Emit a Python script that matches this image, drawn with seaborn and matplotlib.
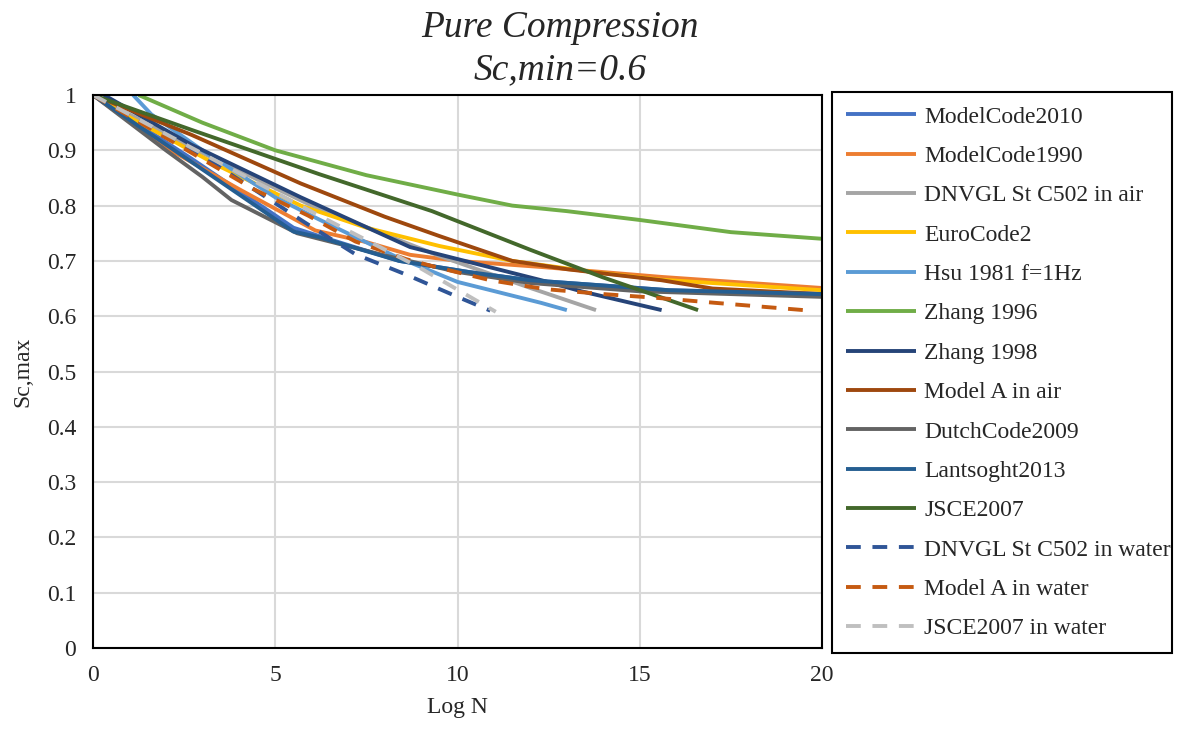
import matplotlib
matplotlib.use("Agg")
import matplotlib.pyplot as plt
import seaborn as sns
import pandas as pd

# --- S-N curves: log N versus Sc,max for Sc,min = 0.6 ---
series_names = [
    "ModelCode2010", "ModelCode1990", "DNVGL St C502 in air", "EuroCode2",
    "Hsu 1981 f=1Hz", "Zhang 1996", "Zhang 1998", "Model A in air",
    "DutchCode2009", "Lantsoght2013", "JSCE2007", "DNVGL St C502 in water",
    "Model A in water", "JSCE2007 in water",
]

mc2010_logn = [0, 2.7, 5.5, 6.2, 8.4, 10.3, 12, 15.8, 20]
mc2010_sc = [1.0, 0.885, 0.76, 0.745, 0.70, 0.68, 0.665, 0.647, 0.64]

mc1990_logn = [0, 2, 4, 6.1, 7.5, 8.7, 10, 12.3, 15.6, 20]
mc1990_sc = [1.0, 0.905, 0.83, 0.755, 0.734, 0.711, 0.70, 0.689, 0.671, 0.651]

dnv_air_logn = [0, 3, 6, 9.5, 12, 13.8]
dnv_air_sc = [1.0, 0.895, 0.80, 0.709, 0.651, 0.611]

ec2_logn = [0, 1, 3.5, 5.7, 7.5, 9.5, 11.5, 13.7, 15.6, 20]
ec2_sc = [1.0, 0.96, 0.87, 0.80, 0.76, 0.727, 0.70, 0.68, 0.666, 0.647]

hsu_logn = [1.1, 1.6, 3, 5, 6.2, 8.3, 10, 12.3, 13]
hsu_sc = [1.0, 0.965, 0.90, 0.815, 0.775, 0.708, 0.662, 0.624, 0.611]

zhang96_logn = [1.25, 3, 5, 7.5, 10, 11.5, 13, 15, 17.5, 20]
zhang96_sc = [1.0, 0.95, 0.90, 0.855, 0.82, 0.80, 0.79, 0.774, 0.752, 0.74]

zhang98_logn = [0.3, 2.7, 5.7, 8.7, 10.5, 12.3, 13.4, 15.6]
zhang98_sc = [1.0, 0.91, 0.815, 0.725, 0.695, 0.665, 0.645, 0.611]

modela_air_logn = [0, 2.7, 5.7, 8, 9.5, 11.5, 13, 15.6, 17, 20]
modela_air_sc = [1.0, 0.928, 0.84, 0.78, 0.745, 0.70, 0.685, 0.665, 0.65, 0.64]

dutch_logn = [0, 1, 2, 3, 3.8, 5.6, 8, 10, 12, 15, 20]
dutch_sc = [1.0, 0.95, 0.90, 0.852, 0.81, 0.75, 0.71, 0.68, 0.66, 0.645, 0.635]

lantsoght_logn = [0, 2.7, 5.5, 6.2, 8.4, 10.3, 12, 15.8, 20]
lantsoght_sc = [1.0, 0.879, 0.753, 0.743, 0.70, 0.68, 0.665, 0.647, 0.64]

jsce_logn = [0, 2.7, 6.2, 9.3, 12, 14, 16.6]
jsce_sc = [1.0, 0.937, 0.857, 0.79, 0.72, 0.67, 0.611]

dnv_water_logn = [0, 3, 5.8, 7.2, 8.6, 10, 10.9]
dnv_water_sc = [1.0, 0.89, 0.77, 0.712, 0.675, 0.635, 0.61]

modela_water_logn = [0, 3.1, 4.4, 5.9, 7.2, 8.6, 9.4, 10.9, 12.4, 14, 15.5, 17.1, 19.5]
modela_water_sc = [1.0, 0.88, 0.83, 0.782, 0.735, 0.703, 0.689, 0.665, 0.649, 0.64,
                   0.633, 0.624, 0.611]

jsce_water_logn = [0, 3.4, 6.2, 8.9, 11.05]
jsce_water_sc = [1.0, 0.88, 0.782, 0.69, 0.608]

x_ticks = [0, 5, 10, 15, 20]
y_ticks = [0, 0.1, 0.2, 0.3, 0.4, 0.5, 0.6, 0.7, 0.8, 0.9, 1]
y_tick_labels = ["0", "0.1", "0.2", "0.3", "0.4", "0.5", "0.6", "0.7", "0.8", "0.9", "1"]

all_logn = [mc2010_logn, mc1990_logn, dnv_air_logn, ec2_logn, hsu_logn, zhang96_logn,
            zhang98_logn, modela_air_logn, dutch_logn, lantsoght_logn, jsce_logn,
            dnv_water_logn, modela_water_logn, jsce_water_logn]
all_sc = [mc2010_sc, mc1990_sc, dnv_air_sc, ec2_sc, hsu_sc, zhang96_sc,
          zhang98_sc, modela_air_sc, dutch_sc, lantsoght_sc, jsce_sc,
          dnv_water_sc, modela_water_sc, jsce_water_sc]

colors = ["#4472C4", "#ED7D31", "#A5A5A5", "#FFC000", "#5B9BD5", "#70AD47",
          "#264478", "#9E480E", "#636363", "#255E91", "#43682B",
          "#2F5597", "#C55A11", "#BFBFBF"]
dashed = ["DNVGL St C502 in water", "Model A in water", "JSCE2007 in water"]

frames = []
for name, xs, ys in zip(series_names, all_logn, all_sc):
    frames.append(pd.DataFrame({"series": name, "logN": xs, "Sc": ys}))
df = pd.concat(frames, ignore_index=True)

sns.set_style("white")
plt.rcParams["font.family"] = ["Liberation Serif", "DejaVu Serif"]
plt.rcParams["font.size"] = 17

fig = plt.figure(figsize=(11.8, 7.3), dpi=100)
ax = fig.add_axes([93 / 1180, 1 - 648 / 730, (822 - 93) / 1180, (648 - 95) / 730])

lw = 2.8
for name, col in zip(series_names, colors):
    sub = df[df["series"] == name]
    ls = (0, (3.8, 3.0)) if name in dashed else "-"
    sns.lineplot(data=sub, x="logN", y="Sc", ax=ax, color=col, linewidth=lw,
                 linestyle=ls, label=name, estimator=None, sort=False,
                 solid_capstyle="butt", dash_capstyle="butt")

ax.set_xlim(0, 20)
ax.set_ylim(0, 1)
ax.set_xticks(x_ticks)
ax.set_yticks(y_ticks)
ax.set_yticklabels(y_tick_labels)
ax.grid(True, color="#D9D9D9", linewidth=1.5)
ax.set_axisbelow(True)
for sp in ax.spines.values():
    sp.set_color("black")
    sp.set_linewidth(1.5)
    sp.set_visible(True)
ax.tick_params(axis="both", direction="out", length=6, width=1.2, color="black",
               labelsize=17, pad=6)
ax.set_xlabel("Log N", fontsize=17, labelpad=8)
ax.set_ylabel("Sc,max", fontsize=17, labelpad=10)

fig.text(560 / 1180, 1 - 49 / 730, "Pure Compression\nSc,min=0.6", ha="center",
         va="center", fontsize=27, style="italic", linespacing=1.3)

handles, labels = ax.get_legend_handles_labels()
ax.get_legend().remove()
leg = fig.legend(handles, labels, loc="upper left",
                 bbox_to_anchor=(832 / 1180, 1 - 650 / 730, 340 / 1180, 558 / 730),
                 mode="expand", borderaxespad=0, frameon=True, fancybox=False,
                 edgecolor="black", framealpha=1, fontsize=17, handlelength=2.95,
                 handletextpad=0.35, labelspacing=0.755, borderpad=0.6)
leg.get_frame().set_linewidth(1.5)

fig.savefig("out.png", dpi=100)
